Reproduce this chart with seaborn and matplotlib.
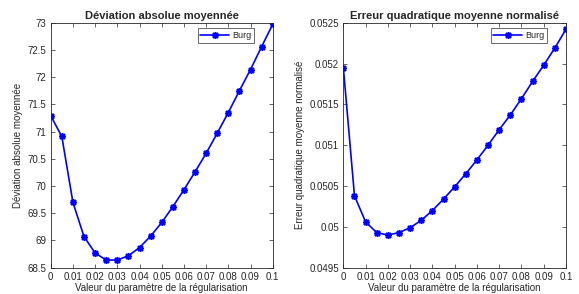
import numpy as np
import pandas as pd
import matplotlib
matplotlib.use("Agg")
import matplotlib.pyplot as plt
import seaborn as sns

reg = [0, 0.005, 0.01, 0.015, 0.02, 0.025, 0.03, 0.035, 0.04, 0.045, 0.05,
       0.055, 0.06, 0.065, 0.07, 0.075, 0.08, 0.085, 0.09, 0.095, 0.1]
mad = [71.29, 70.91, 69.70, 69.07, 68.77, 68.64, 68.64, 68.72, 68.87, 69.08, 69.33,
       69.62, 69.93, 70.26, 70.60, 70.97, 71.35, 71.75, 72.14, 72.56, 72.97]
nmse = [0.05195, 0.05038, 0.05006, 0.04993, 0.04990, 0.04993, 0.04999, 0.05008, 0.05020, 0.05034, 0.05049,
        0.05065, 0.05082, 0.05100, 0.05119, 0.05137, 0.05157, 0.05178, 0.05198, 0.05219, 0.05242]

df = pd.DataFrame({"reg": reg, "mad": mad, "nmse": nmse})

sns.set_style("white")
plt.rcParams['font.family'] = ['Liberation Sans', 'DejaVu Sans']
dark = "#262626"
plt.rcParams.update({
    "axes.edgecolor": dark, "axes.linewidth": 0.6,
})

fig = plt.figure(figsize=(5.79, 2.94), dpi=100)
ax1 = fig.add_axes([0.0876, 0.0895, 0.3834, 0.8333])
ax2 = fig.add_axes([0.593, 0.0895, 0.3845, 0.8333])

panels = [
    (ax1, "mad", "Déviation absolue moyennée", "Déviation absolue moyennée",
     (68.5, 73), np.arange(68.5, 73.01, 0.5)),
    (ax2, "nmse", "Erreur quadratique moyenne normalisé", "Erreur quadratique moyenne normalisé",
     (0.0495, 0.0525), np.arange(0.0495, 0.05251, 0.0005)),
]

for ax, col, title, ylabel, ylim, yticks in panels:
    sns.lineplot(data=df, x="reg", y=col, ax=ax, color="#0000ff", linewidth=1.2,
                 marker=(8, 2, 0), markersize=5, markeredgewidth=1.1,
                 markeredgecolor="#0000ff", label="Burg")
    ax.set_xlim(0, 0.1)
    ax.set_ylim(*ylim)
    xt = np.round(np.arange(0, 0.1001, 0.01), 2)
    ax.set_xticks(xt)
    ax.set_xticklabels(["%g" % v for v in xt])
    ax.set_yticks(yticks)
    ax.set_yticklabels(["%g" % round(v, 5) for v in yticks])
    ax.tick_params(axis="both", which="major", direction="in", length=3, width=0.5,
                   colors=dark, labelsize=7, pad=3, top=True, right=True, bottom=True, left=True)
    ax.set_title(title, fontsize=8, fontweight="bold", pad=3)
    ax.set_xlabel("Valeur du paramètre de la régularisation", fontsize=7, color=dark, labelpad=1)
    ax.set_ylabel(ylabel, fontsize=7, color=dark, labelpad=3)
    for s in ax.spines.values():
        s.set_visible(True)
    leg = ax.legend(loc="upper right", bbox_to_anchor=(0.915, 0.978), fontsize=6.5,
                    frameon=True, fancybox=False, edgecolor=dark, borderpad=0.3,
                    handlelength=3.2, handletextpad=0.3, borderaxespad=0)
    leg.get_frame().set_linewidth(0.6)

fig.savefig("out.png", dpi=100)
